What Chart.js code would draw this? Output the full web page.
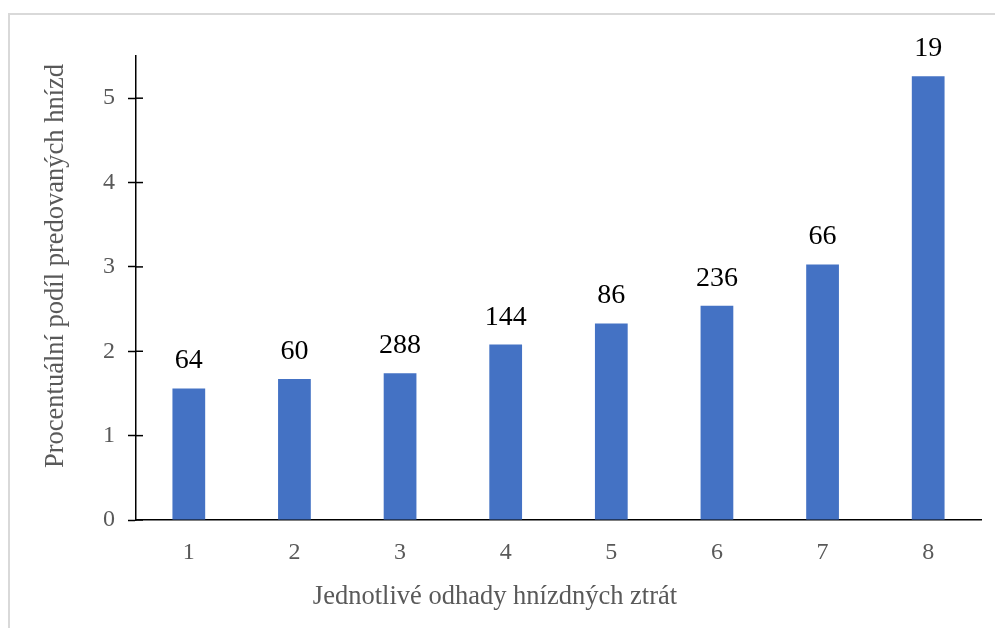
<!DOCTYPE html>
<html>
<head>
<meta charset="utf-8">
<script src="https://cdn.jsdelivr.net/npm/chart.js@4.4.0/dist/chart.umd.min.js"></script>
<style>
  body { margin: 0; background: #fff; overflow: hidden; }
  #frame { position: absolute; left: 8px; top: 13px; width: 1100px; height: 700px; border: 2px solid #d9d9d9; }
  #wrap { position: absolute; left: 0; top: 0; width: 995px; height: 628px; }
</style>
</head>
<body>
<div id="frame"></div>
<div id="wrap"><canvas id="nest-chart"></canvas></div>
<script>
var categories = ['1', '2', '3', '4', '5', '6', '7', '8'];
var shareValues = [1.56, 1.67, 1.74, 2.08, 2.33, 2.54, 3.03, 5.26];
var nestCounts = [64, 60, 288, 144, 86, 236, 66, 19];
var yTicks = [0, 1, 2, 3, 4, 5];
var xTitle = 'Jednotlivé odhady hnízdných ztrát';
var yTitle = 'Procentuální podíl predovaných hnízd';

var serif = '"Liberation Serif", "Times New Roman", serif';

// data labels, inner halves of the y ticks, axis titles
var extras = {
    id: 'extras',
    afterDatasetsDraw: function(chart) {
        var ctx = chart.ctx;
        var meta = chart.getDatasetMeta(0);
        ctx.save();
        ctx.fillStyle = '#000';
        ctx.font = '28px ' + serif;
        ctx.textAlign = 'center';
        ctx.textBaseline = 'alphabetic';
        meta.data.forEach(function(bar, i) {
            ctx.fillText(String(nestCounts[i]), bar.x, bar.y - 20);
        });

        var y = chart.scales.y;
        ctx.strokeStyle = '#000';
        ctx.lineWidth = 1.5;
        yTicks.forEach(function(v) {
            var py = y.getPixelForValue(v);
            ctx.beginPath();
            ctx.moveTo(y.right, py);
            ctx.lineTo(y.right + 7, py);
            ctx.stroke();
        });

        ctx.fillStyle = '#595959';
        ctx.font = '26.5px ' + serif;
        ctx.fillText(xTitle, 495, 604);
        ctx.translate(63, 266);
        ctx.rotate(-Math.PI / 2);
        ctx.fillText(yTitle, 0, 0);
        ctx.restore();
    }
};

window.onload = function() {
    var ctx = document.getElementById('nest-chart');
    new Chart(ctx, {
        type: 'bar',
        data: {
            labels: categories,
            datasets: [{
                data: shareValues,
                backgroundColor: '#4472c4',
                barPercentage: 0.31,
                categoryPercentage: 1
            }]
        },
        options: {
            responsive: true,
            maintainAspectRatio: false,
            animation: false,
            layout: { padding: { left: 76, right: 14, top: 56, bottom: 0 } },
            plugins: { legend: { display: false }, tooltip: { enabled: false } },
            scales: {
                x: {
                    grid: { display: false },
                    border: { display: true, color: '#000', width: 1.5 },
                    ticks: { color: '#595959', font: { family: serif, size: 24 }, padding: 10 },
                    afterFit: function(scale) { scale.height = 108; }
                },
                y: {
                    min: 0,
                    max: 5.5,
                    grid: { drawOnChartArea: false, drawTicks: true, tickLength: 8, tickColor: '#000', tickWidth: 1.5 },
                    border: { display: true, color: '#000', width: 1.5 },
                    ticks: { stepSize: 1, color: '#595959', font: { family: serif, size: 24 }, padding: 13 },
                    afterBuildTicks: function(scale) {
                        scale.ticks = yTicks.map(function(v) { return { value: v }; });
                    },
                    afterFit: function(scale) { scale.width = 60; }
                }
            }
        },
        plugins: [extras]
    });
};
</script>
</body>
</html>
